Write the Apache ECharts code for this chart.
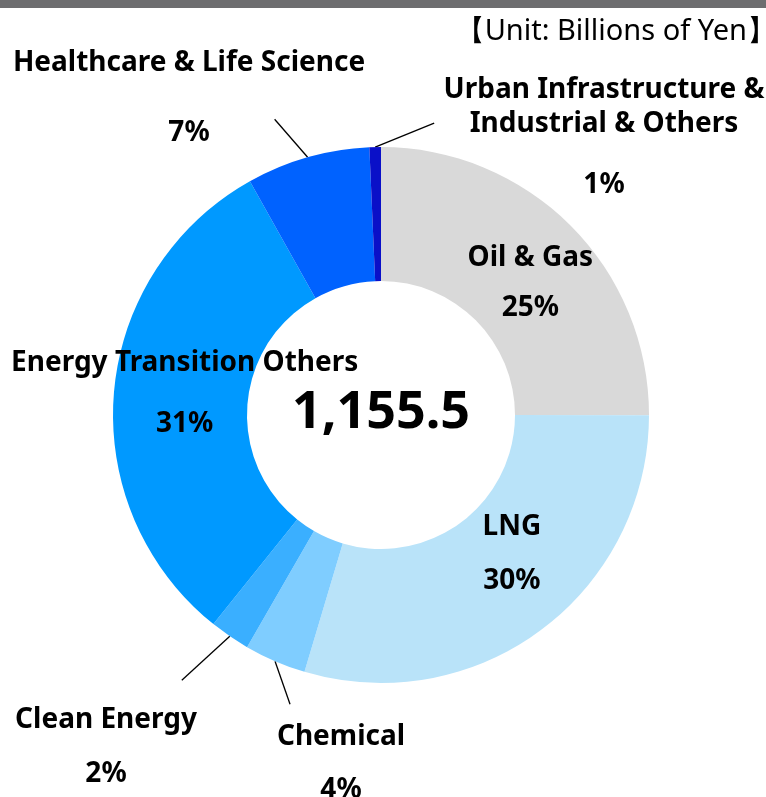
<!DOCTYPE html>
<html>
<head>
<meta charset="utf-8">
<script src="https://cdn.jsdelivr.net/npm/echarts@6/dist/echarts.min.js"></script>
<style>
  html, body { margin: 0; padding: 0; background: #fff; }
  #chart { width: 766px; height: 797px; }
</style>
</head>
<body>
<div id="chart"></div>
<script>
// 事業別内訳（単位：十億円）
const segmentNames = [
  "Oil & Gas",
  "LNG",
  "Chemical",
  "Clean Energy",
  "Energy Transition Others",
  "Healthcare & Life Science",
  "Urban Infrastructure &\nIndustrial & Others"
];
const segmentValues = [289, 342, 43, 28, 359.5, 86, 8];
const segmentColors = ["#d9d9d9", "#b9e3f9", "#7fcdff", "#3aafff", "#0099ff", "#0062ff", "#0a10c8"];
const totalLabel = "1,155.5";
const unitLabel = "【Unit: Billions of Yen】";

const labelFont = "'Noto Sans', sans-serif";

// pct行の行高（名前との間隔調整）
const pctGap = {
  "Oil & Gas": 66,
  "LNG": 74,
  "Energy Transition Others": 88,
  "Healthcare & Life Science": 106,
  "Urban Infrastructure &\nIndustrial & Others": 88,
  "Clean Energy": 74,
  "Chemical": 72
};
// 内側ラベルの微調整
const insideOffset = {
  "Oil & Gas": [5, 20],
  "LNG": [9, -15],
  "Energy Transition Others": [7, 9]
};
// 外側ラベル：位置と引出線の向き
const outsideLabel = {
  "Healthcare & Life Science": { x: 189, y: 46, line: [-33, -38] },
  "Urban Infrastructure &\nIndustrial & Others": { x: 604, y: 73, line: [59, -24] },
  "Clean Energy": { x: 106, y: 703, line: [-48, 44] },
  "Chemical": { x: 341, y: 720, line: [15, 43] }
};

const chart = echarts.init(document.getElementById("chart"), null, { renderer: "canvas" });

const seriesData = segmentNames.map((name, i) => {
  const inside = !!insideOffset[name];
  const rich = {
    n: { fontFamily: labelFont, fontSize: 28, fontWeight: "bold", color: "#000", lineHeight: 34, align: "center" },
    p: { fontFamily: labelFont, fontSize: 28, fontWeight: "bold", color: "#000", lineHeight: pctGap[name], align: "center" }
  };
  return {
    name: name,
    value: segmentValues[i],
    itemStyle: { color: segmentColors[i] },
    label: {
      show: true,
      position: inside ? "inside" : "outside",
      offset: inside ? insideOffset[name] : [0, 0],
      rich: rich
    },
    labelLine: { show: !inside, length: 20, length2: 0, lineStyle: { color: "#000", width: 1.3 } }
  };
});

const option = {
  backgroundColor: "#fff",
  animation: false,
  graphic: [
    { type: "rect", left: 0, top: 0, shape: { width: 766, height: 8 }, style: { fill: "#6d6d6f" } },
    {
      type: "text", right: -10, top: 17,
      style: { text: unitLabel, fontFamily: labelFont, fontSize: 29, fill: "#000" }
    },
    {
      type: "text",
      x: 381, y: 413,
      style: { text: totalLabel, fontFamily: labelFont, fontSize: 52, fontWeight: "bold", fill: "#000", textAlign: "center", textVerticalAlign: "middle" }
    }
  ],
  series: [
    {
      type: "pie",
      center: [381, 415],
      radius: [134, 268],
      startAngle: 90,
      clockwise: true,
      avoidLabelOverlap: false,
      itemStyle: { borderWidth: 0 },
      label: {
        formatter: function (p) {
          return "{n|" + p.name.split("\n").join("}\n{n|") + "}\n{p|" + Math.round(p.percent) + "%}";
        }
      },
      labelLayout: function (params) {
        const name = segmentNames[params.dataIndex];
        const o = outsideLabel[name];
        if (!o) return {};
        const start = params.labelLinePoints[0];
        return {
          x: o.x,
          y: o.y,
          align: "center",
          verticalAlign: "top",
          labelLinePoints: [start, [start[0] + o.line[0], start[1] + o.line[1]]]
        };
      },
      emphasis: { disabled: true },
      data: seriesData
    }
  ]
};

chart.setOption(option);
</script>
</body>
</html>
